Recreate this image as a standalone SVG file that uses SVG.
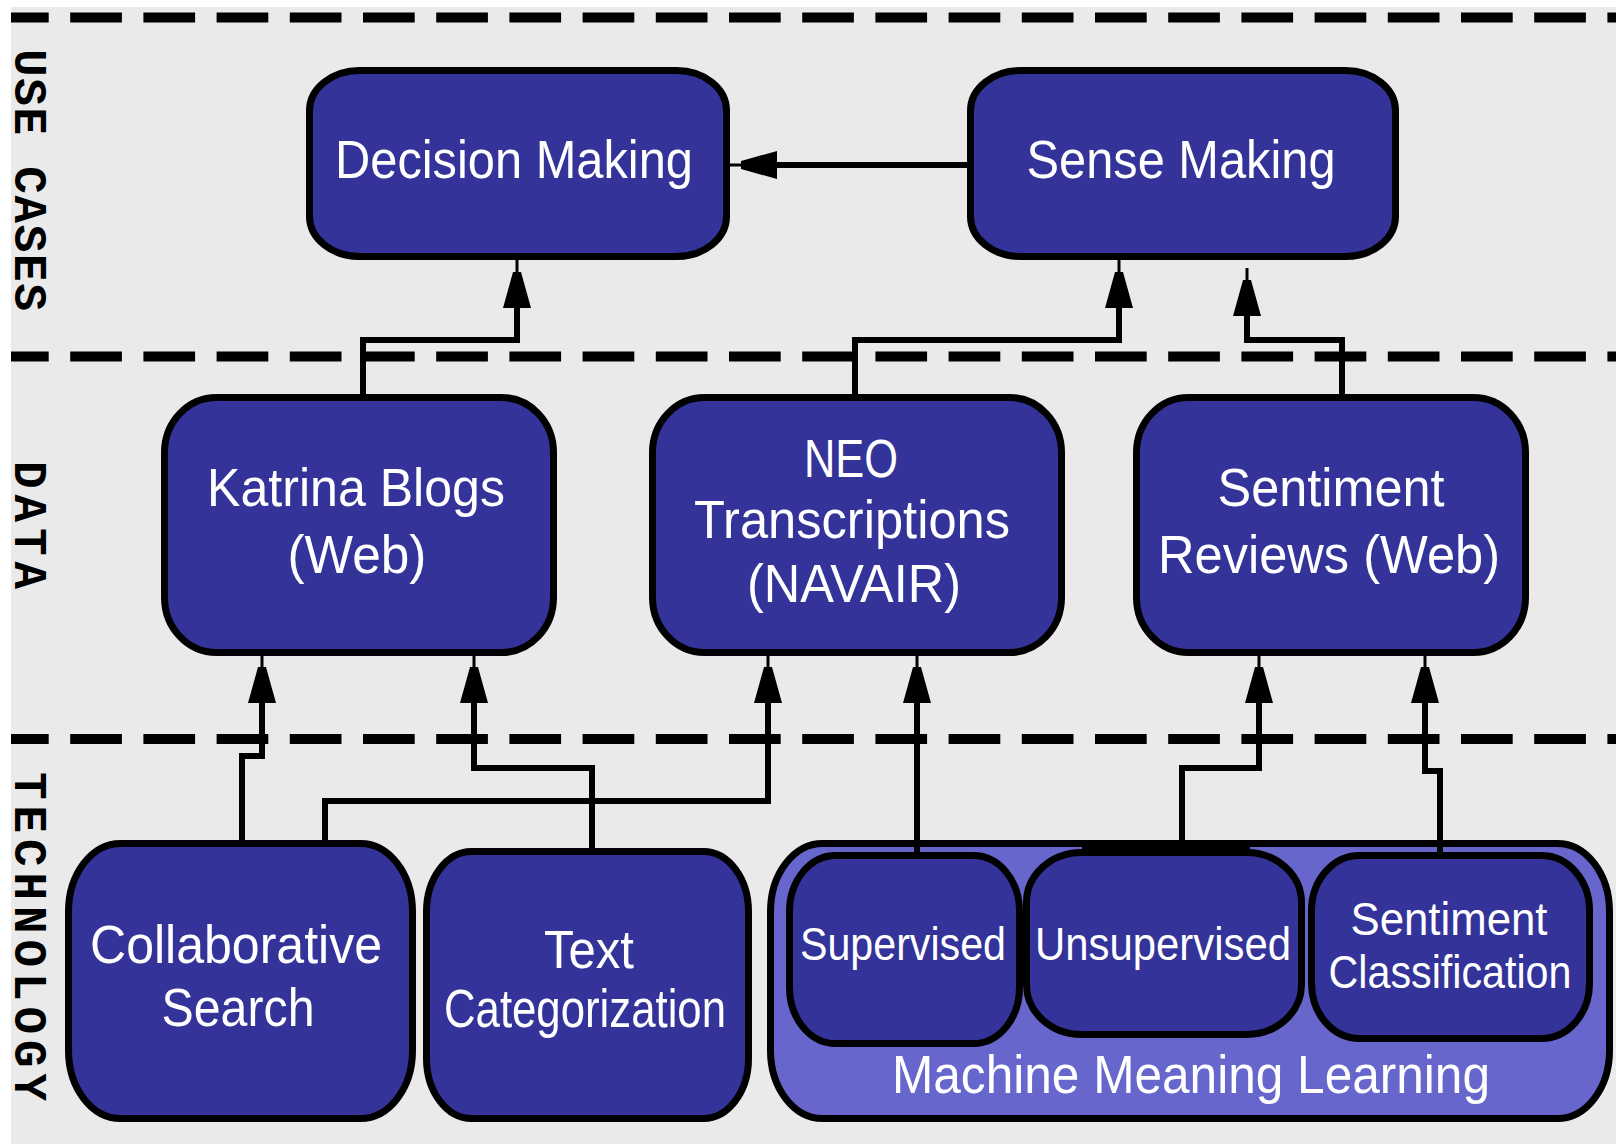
<svg xmlns="http://www.w3.org/2000/svg" width="1616" height="1144" viewBox="0 0 1616 1144">
<style>
.bg{fill:#eaeaea}
.sep{stroke:#000;stroke-width:10;stroke-dasharray:51.7 21.5;stroke-dashoffset:14;fill:none}
.lane{font-family:"Liberation Mono","DejaVu Sans Mono",monospace;font-weight:bold;font-size:46px;fill:#000}
.box{fill:#333399;stroke:#000;stroke-width:7}
.grp{fill:#6666cc;stroke:#000;stroke-width:7}
.t{font-family:"Liberation Sans",Arial,sans-serif;font-size:53px;fill:#fff;text-anchor:middle}
.ts{font-family:"Liberation Sans",Arial,sans-serif;font-size:46px;fill:#fff;text-anchor:middle}
.c{fill:none;stroke:#000;stroke-width:6;stroke-linejoin:miter;marker-end:url(#arr)}
.cn{fill:none;stroke:#000;stroke-width:6;stroke-linejoin:miter}
</style>
<defs>
<marker id="arr" markerUnits="userSpaceOnUse" orient="auto" overflow="visible" markerWidth="50" markerHeight="30" refX="0" refY="0">
<path d="M-1,-14 L35,-4 L35,4 L-1,14 Z M35,-1.5 H47 V1.5 H35 Z" fill="#000"/>
</marker>
</defs>
<rect x="0" y="0" width="1616" height="1144" fill="#fff"/>
<rect class="bg" x="11" y="7" width="1605" height="1137"/>
<g id="lanes">
<line class="sep" x1="11" y1="17.5" x2="1616" y2="17.5"/>
<line class="sep" x1="11" y1="356.5" x2="1616" y2="356.5"/>
<line class="sep" x1="11" y1="739" x2="1616" y2="739"/>
<text class="lane" transform="translate(15,49) rotate(90)" textLength="262" lengthAdjust="spacing">USE CASES</text>
<text class="lane" transform="translate(15,461) rotate(90)" textLength="128" lengthAdjust="spacing">DATA</text>
<text class="lane" transform="translate(15,772) rotate(90)" textLength="329" lengthAdjust="spacing">TECHNOLOGY</text>
</g>
<g id="machine-meaning-learning">
<rect class="grp" x="770.5" y="843.5" width="839" height="275" rx="52" ry="68"/>
<text class="t" x="1191" y="1093" textLength="598" lengthAdjust="spacingAndGlyphs">Machine Meaning Learning</text>
</g>
<g id="connectors">
<path class="c" d="M967,165 H776"/>
<path class="c" d="M363,394 V340 H517 V307"/>
<path class="c" d="M855,394 V340 H1119 V307"/>
<path class="c" d="M1342,394 V340 H1247 V315"/>
<path class="c" d="M242,843 V756 H262 V702"/>
<path class="c" d="M592,851 V768 H474 V702"/>
<path class="c" d="M325,843 V801 H768 V702"/>
<path class="c" d="M917,855 V702"/>
<path class="c" d="M1182,850 V768 H1259 V702"/>
<path class="c" d="M1440,855 V771 H1425 V702"/>
</g>
<g id="decision-making">
<rect class="box" x="309.5" y="70.5" width="417" height="186" rx="50" ry="40"/>
<text class="t" x="514" y="178" textLength="358" lengthAdjust="spacingAndGlyphs">Decision Making</text>
</g>
<g id="sense-making">
<rect class="box" x="970.5" y="70.5" width="425" height="186" rx="50" ry="40"/>
<text class="t" x="1181" y="178" textLength="309" lengthAdjust="spacingAndGlyphs">Sense Making</text>
</g>
<g id="katrina-blogs">
<rect class="box" x="164.5" y="397.5" width="389" height="255" rx="52" ry="55"/>
<text class="t" x="356" y="506" textLength="298" lengthAdjust="spacingAndGlyphs">Katrina Blogs</text>
<text class="t" x="357" y="573" textLength="139" lengthAdjust="spacingAndGlyphs">(Web)</text>
</g>
<g id="neo-transcriptions">
<rect class="box" x="652.5" y="397.5" width="409" height="255" rx="52" ry="55"/>
<text class="t" x="851" y="477" textLength="94" lengthAdjust="spacingAndGlyphs">NEO</text>
<text class="t" x="852" y="538" textLength="316" lengthAdjust="spacingAndGlyphs">Transcriptions</text>
<text class="t" x="854" y="602" textLength="214" lengthAdjust="spacingAndGlyphs">(NAVAIR)</text>
</g>
<g id="sentiment-reviews">
<rect class="box" x="1136.5" y="397.5" width="389" height="255" rx="52" ry="55"/>
<text class="t" x="1331" y="506" textLength="227" lengthAdjust="spacingAndGlyphs">Sentiment</text>
<text class="t" x="1329" y="573" textLength="342" lengthAdjust="spacingAndGlyphs">Reviews (Web)</text>
</g>
<g id="collaborative-search">
<rect class="box" x="68.5" y="843.5" width="344" height="275" rx="52" ry="68"/>
<text class="t" x="236" y="963" textLength="292" lengthAdjust="spacingAndGlyphs">Collaborative</text>
<text class="t" x="238" y="1026" textLength="153" lengthAdjust="spacingAndGlyphs">Search</text>
</g>
<g id="text-categorization">
<rect class="box" x="426.5" y="851.5" width="322" height="267" rx="45" ry="60"/>
<text class="t" x="589" y="968" textLength="90" lengthAdjust="spacingAndGlyphs">Text</text>
<text class="t" x="585" y="1027" textLength="282" lengthAdjust="spacingAndGlyphs">Categorization</text>
</g>
<g id="supervised">
<rect class="box" x="789.5" y="855.5" width="230" height="188" rx="46" ry="56"/>
<text class="ts" x="903" y="960" textLength="206" lengthAdjust="spacingAndGlyphs">Supervised</text>
</g>
<g id="unsupervised">
<rect x="1082" y="842" width="168" height="14" fill="#000"/>
<rect class="box" x="1026.5" y="852.5" width="275" height="182" rx="55" ry="50"/>
<text class="ts" x="1163" y="960" textLength="256" lengthAdjust="spacingAndGlyphs">Unsupervised</text>
</g>
<g id="sentiment-classification">
<rect class="box" x="1311.5" y="855.5" width="278" height="183" rx="48" ry="55"/>
<text class="ts" x="1449" y="935" textLength="197" lengthAdjust="spacingAndGlyphs">Sentiment</text>
<text class="ts" x="1450" y="988" textLength="243" lengthAdjust="spacingAndGlyphs">Classification</text>
</g>
</svg>
